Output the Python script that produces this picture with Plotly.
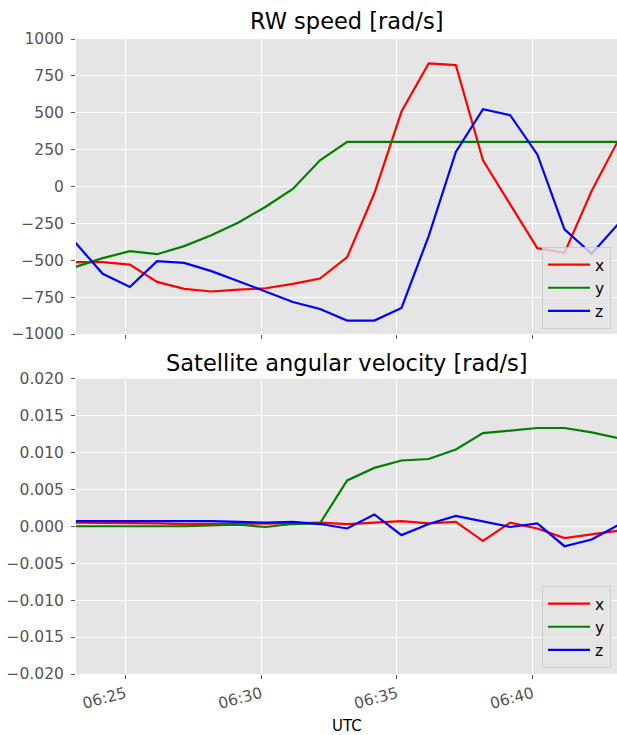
import plotly.graph_objects as go
from plotly.subplots import make_subplots
import pandas as pd

# time stamps, one per minute
times = pd.date_range("2021-01-01 06:23:10", periods=21, freq="1min")

# RW speed [rad/s]
rw_x = [-513, -513, -529, -647, -694, -712, -699, -690, -660, -624, -479, -46, 508, 835, 823, 178, -121, -418, -450, -31, 320]
rw_y = [-545, -486, -438, -459, -404, -330, -244, -137, -17, 178, 302, 302, 302, 302, 302, 302, 302, 302, 302, 302, 302]
rw_z = [-382, -592, -681, -506, -518, -574, -642, -710, -783, -830, -909, -909, -823, -336, 234, 524, 484, 217, -291, -456, -250]

# Satellite angular velocity [rad/s]
av_x = [0.0005, 0.0005, 0.0005, 0.0004, 0.0003, 0.0003, 0.0003, 0.0004, 0.0004, 0.0005, 0.0003, 0.0005, 0.0007, 0.0004, 0.0006, -0.0020, 0.0005, -0.0003, -0.0016, -0.0011, -0.0006]
av_y = [0.0000, 0.0000, 0.0000, -0.0001, 0.0000, 0.0001, 0.0002, -0.0001, 0.0003, 0.0004, 0.0062, 0.0079, 0.0089, 0.0091, 0.0104, 0.0126, 0.0129, 0.0133, 0.0133, 0.0127, 0.0119]
av_z = [0.0007, 0.0007, 0.0008, 0.0008, 0.0007, 0.0007, 0.0006, 0.0005, 0.0006, 0.0003, -0.0003, 0.0016, -0.0012, 0.0003, 0.0014, 0.0007, -0.0001, 0.0004, -0.0027, -0.0018, 0.0002]

labels = ["x", "y", "z"]
colors = ["red", "green", "blue"]

FONT = "DejaVu Sans"
TICK = 15.5

fig = make_subplots(rows=2, cols=1, shared_xaxes=True, vertical_spacing=0.0)

for name, col, vals in zip(labels, colors, [rw_x, rw_y, rw_z]):
    fig.add_trace(go.Scatter(x=times, y=vals, mode="lines", name=name,
                             line=dict(color=col, width=2.2), legend="legend"), row=1, col=1)
for name, col, vals in zip(labels, colors, [av_x, av_y, av_z]):
    fig.add_trace(go.Scatter(x=times, y=vals, mode="lines", name=name,
                             line=dict(color=col, width=2.2), legend="legend2"), row=2, col=1)

H_TOT = 635.0
top_dom = [(H_TOT - 295) / H_TOT, 1.0]
bot_dom = [0.0, 295.5 / H_TOT]
BOT = 735 - 61.0

xcommon = dict(
    range=["2021-01-01 06:23:11", "2021-01-01 06:43:06"],
    tick0="2021-01-01 06:25:00", dtick=300000, tickformat="%H:%M",
    showgrid=True, gridcolor="white", gridwidth=1.3,
    ticks="outside", ticklen=4, tickcolor="#555555", tickwidth=1,
    zeroline=False, showline=False,
    tickfont=dict(family=FONT, size=TICK, color="#555555"),
)
ycommon = dict(
    showgrid=True, gridcolor="white", gridwidth=1.3,
    ticks="outside", ticklen=4, tickcolor="#555555", tickwidth=1,
    zeroline=False, showline=False,
    tickfont=dict(family=FONT, size=TICK, color="#555555"),
    ticklabelstandoff=4,
)

legend_style = dict(bgcolor="rgba(229,229,229,0.8)", bordercolor="#cccccc", borderwidth=1,
                    itemwidth=42, font=dict(family=FONT, size=TICK, color="black"),
                    xanchor="right", yanchor="top", x=(611 - 76) / 541)

fig.update_layout(
    width=617, height=735,
    margin=dict(l=76, r=0, t=39, b=61.0),
    paper_bgcolor="white", plot_bgcolor="#E5E5E5",
    font=dict(family=FONT, size=TICK, color="black"),
    xaxis=dict(**xcommon, showticklabels=False),
    xaxis2=dict(**xcommon, tickangle=-15),
    yaxis=dict(**ycommon, domain=top_dom, range=[-1000, 1000], dtick=250, tick0=0),
    yaxis2=dict(**ycommon, domain=bot_dom, range=[-0.02, 0.02], dtick=0.005, tick0=0, tickformat=".3f"),
    legend=dict(**legend_style, y=(BOT - 247) / H_TOT),
    legend2=dict(**legend_style, y=(BOT - 586) / H_TOT),
    showlegend=True,
    annotations=[
        dict(text="RW speed [rad/s]", xref="paper", yref="paper", x=0.5, y=(BOT - 21) / H_TOT,
             xanchor="center", yanchor="middle", showarrow=False,
             font=dict(family=FONT, size=22.5, color="black")),
        dict(text="Satellite angular velocity [rad/s]", xref="paper", yref="paper", x=0.5,
             y=(BOT - 363) / H_TOT, xanchor="center", yanchor="middle", showarrow=False,
             font=dict(family=FONT, size=22.5, color="black")),
        dict(text="UTC", xref="paper", yref="paper", x=0.5, y=(BOT - 726) / H_TOT,
             xanchor="center", yanchor="middle", showarrow=False,
             font=dict(family=FONT, size=15, color="black")),
    ],
)

fig.write_html("out.html")
